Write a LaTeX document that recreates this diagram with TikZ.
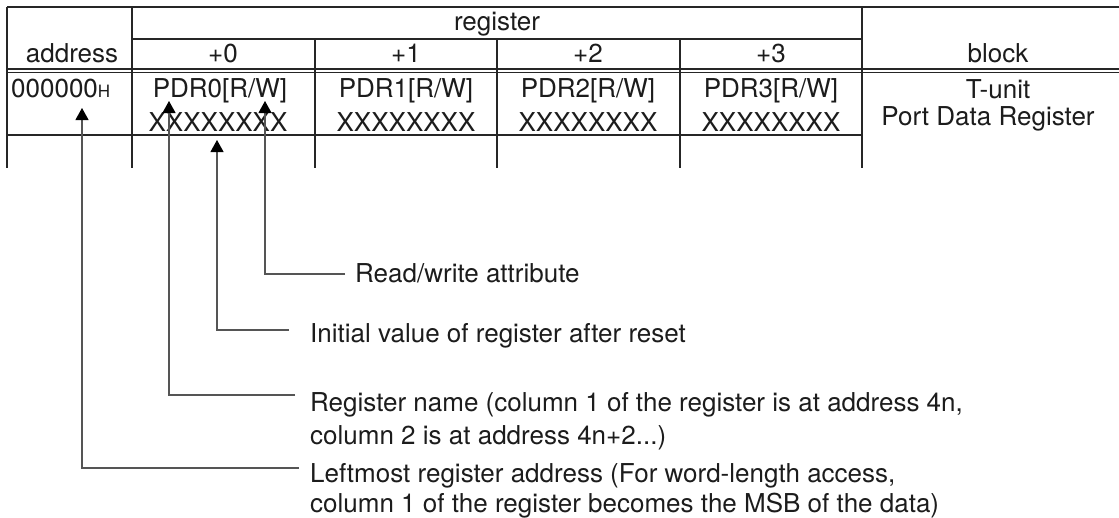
\documentclass[tikz,border=0pt]{standalone}
\usepackage{fontspec}
\setmainfont{TeX Gyre Heros}
\usetikzlibrary{arrows.meta}
\definecolor{txt}{HTML}{1C1C1C}
\definecolor{tabline}{HTML}{262626}
\definecolor{connc}{HTML}{555555}
\begin{document}
\begin{tikzpicture}[x=1pt,y=-1pt,
  every node/.style={inner sep=0pt, font=\fontsize{26}{30}\selectfont, text=txt},
  tab/.style={line width=2pt, draw=tabline},
  dbl/.style={line width=1.3pt, draw=tabline},
  conn/.style={line width=1.1pt, draw=connc, -{Triangle[length=12pt,width=13pt,color=black]}},
  cell/.style={anchor=base},
  lbl/.style={anchor=base west, align=left}]
\useasboundingbox (0,0) rectangle (1119,517);
% table lines
\draw[tab] (7,7) -- (1119,7);
\draw[tab] (132,39) -- (862,39);
\draw[dbl] (7,69) -- (1119,69);
\draw[dbl] (7,72.5) -- (1119,72.5);
\draw[tab] (7,135) -- (862,135);
\draw[tab] (7,7) -- (7,168);
\draw[tab] (132,7) -- (132,168);
\draw[tab] (315,39) -- (315,168);
\draw[tab] (497,39) -- (497,168);
\draw[tab] (680,39) -- (680,168);
\draw[tab] (862,7) -- (862,168);
% header texts
\node[cell] (reg) at (497,30) {register};
\node[cell] (addrh) at (72,62) {address};
\node[cell] (p0) at (223,62) {+0};
\node[cell] (p1) at (406,62) {+1};
\node[cell] (p2) at (588,62) {+2};
\node[cell] (p3) at (771,62) {+3};
\node[cell] (blk) at (998,62) {block};
% row
\node[anchor=base west] (addr) at (11,97) {000000{\fontsize{17}{17}\selectfont H}};
\node[cell] (n0) at (220,97) {PDR0[R/W]};
\node[cell] (n1) at (406,97) {PDR1[R/W]};
\node[cell] (n2) at (588,97) {PDR2[R/W]};
\node[cell] (n3) at (771,97) {PDR3[R/W]};
\node[cell] (v0) at (218,131) {XXXXXXXX};
\node[cell] (v1) at (406,131) {XXXXXXXX};
\node[cell] (v2) at (588,131) {XXXXXXXX};
\node[cell] (v3) at (771,131) {XXXXXXXX};
\node[cell] (tu) at (998,98) {T-unit};
\node[cell] (pdr) at (988,125) {Port Data Register};
% annotation labels (base anchor = last line's baseline)
\node[lbl] (lrw) at (355,282) {Read/write attribute};
\node[lbl] (lin) at (310,342) {Initial value of register after reset};
\node[lbl, font=\fontsize{26}{33}\selectfont] (lnm) at (310,444) {Register name (column 1 of the register is at address 4n,\\column 2 is at address 4n+2...)};
\node[lbl, font=\fontsize{26}{30}\selectfont] (lla) at (310,512) {Leftmost register address (For word-length access,\\column 1 of the register becomes the MSB of the data)};
% connector coordinates
\coordinate (rwe) at (345,274);
\coordinate (ine) at (289,330);
\coordinate (nme) at (295,395);
\coordinate (lae) at (299,468);
\coordinate (rwt) at (265,101);
\coordinate (int) at (217,140);
\coordinate (nmt) at (169,101);
\coordinate (lat) at (82,108);
\draw[conn] (rwe) -| (rwt);
\draw[conn] (ine) -| (int);
\draw[conn] (nme) -| (nmt);
\draw[conn] (lae) -| (lat);
\end{tikzpicture}
\end{document}
